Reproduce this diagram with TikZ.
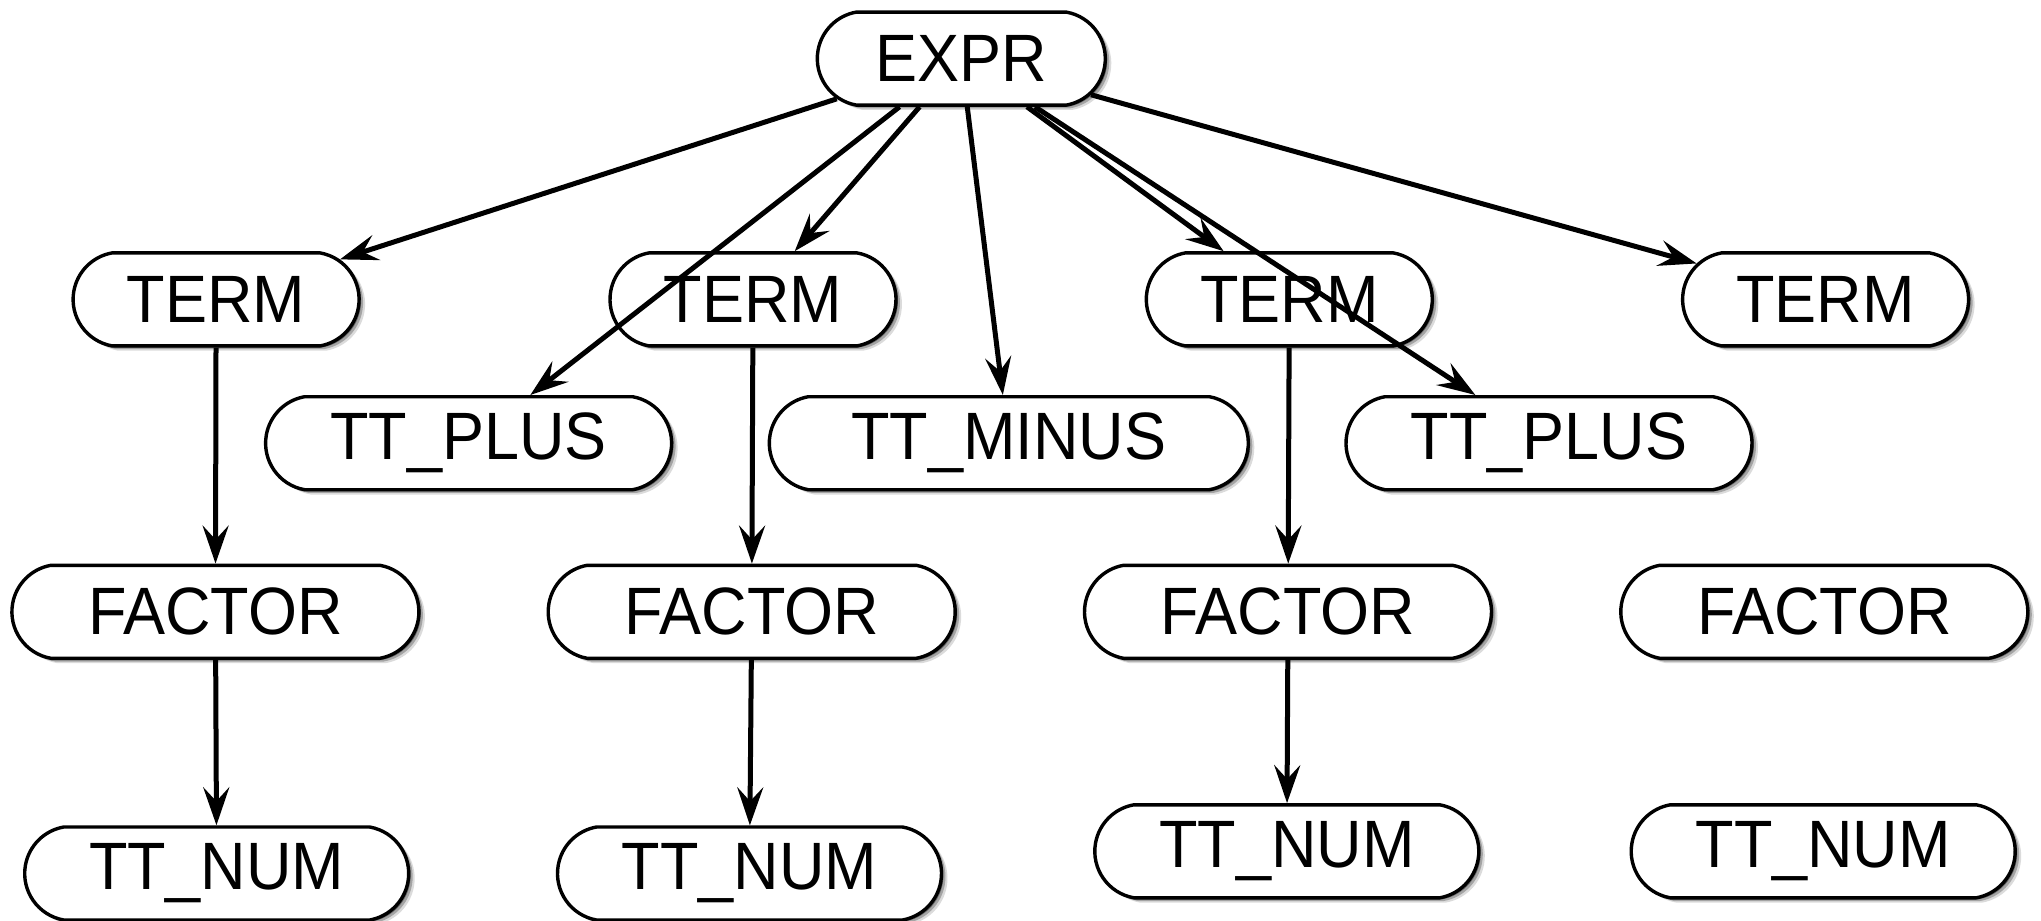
\documentclass[tikz,border=0pt]{standalone}
\usepackage{fontspec}
\setmainfont[FakeStretch=0.94]{Liberation Sans}
\usetikzlibrary{shapes.misc,shadows,arrows.meta}
\tikzset{
  treenode/.style={rounded rectangle, rounded rectangle arc length=160, draw, line width=1.7pt,
    fill=white, minimum height=46.5pt, inner sep=0pt, font=\fontsize{33.5}{40}\selectfont,
    drop shadow={shadow xshift=1.0pt, shadow yshift=-0.8pt, fill=black, opacity=0.40},
    drop shadow={shadow xshift=2.0pt, shadow yshift=-1.6pt, fill=black, opacity=0.25},
    drop shadow={shadow xshift=3.0pt, shadow yshift=-2.4pt, fill=black, opacity=0.14}},
  treeedge/.style={draw=black, line width=2.5pt, -{Stealth[length=19pt,width=13pt,inset=7pt]}}
}
\begin{document}
\begin{tikzpicture}[x=0.5pt,y=-0.5pt]
\useasboundingbox (0,0) rectangle (2041,921);
\node[treenode, minimum width=144pt] (expr) at (961.3,58.6) {EXPR};
\node[treenode, minimum width=143pt] (term1) at (216.1,299.4) {TERM};
\node[treenode, minimum width=143pt] (term2) at (753.0,299.4) {TERM};
\node[treenode, minimum width=143pt] (term3) at (1289.3,299.4) {TERM};
\node[treenode, minimum width=143pt] (term4) at (1825.6,299.4) {TERM};
\node[treenode, minimum width=203pt] (plus1) at (468.6,443.2) {TT\_PLUS};
\node[treenode, minimum width=239.5pt] (minus) at (1008.8,443.2) {TT\_MINUS};
\node[treenode, minimum width=203pt] (plus2) at (1549.0,443.2) {TT\_PLUS};
\node[treenode, minimum width=203.5pt] (factor1) at (215.4,611.8) {FACTOR};
\node[treenode, minimum width=203.5pt] (factor2) at (751.7,611.8) {FACTOR};
\node[treenode, minimum width=203.5pt] (factor3) at (1288.0,611.8) {FACTOR};
\node[treenode, minimum width=203.5pt] (factor4) at (1824.3,611.8) {FACTOR};
\node[treenode, minimum width=192pt] (num1) at (216.7,873.5) {TT\_NUM};
\node[treenode, minimum width=192pt] (num2) at (749.5,873.5) {TT\_NUM};
\node[treenode, minimum width=192pt] (num3) at (1286.8,851.3) {TT\_NUM};
\node[treenode, minimum width=192pt] (num4) at (1823.2,851.3) {TT\_NUM};
\draw[treeedge] (expr) -- (term1);
\draw[treeedge] (expr) -- (plus1);
\draw[treeedge] (expr) -- (term2);
\draw[treeedge] (expr) -- (minus);
\draw[treeedge] (expr) -- (term3);
\draw[treeedge] (expr) -- (plus2);
\draw[treeedge] (expr) -- (term4);
\draw[treeedge] (term1) -- (factor1);
\draw[treeedge] (factor1) -- (num1);
\draw[treeedge] (term2) -- (factor2);
\draw[treeedge] (factor2) -- (num2);
\draw[treeedge] (term3) -- (factor3);
\draw[treeedge] (factor3) -- (num3);
\end{tikzpicture}
\end{document}
